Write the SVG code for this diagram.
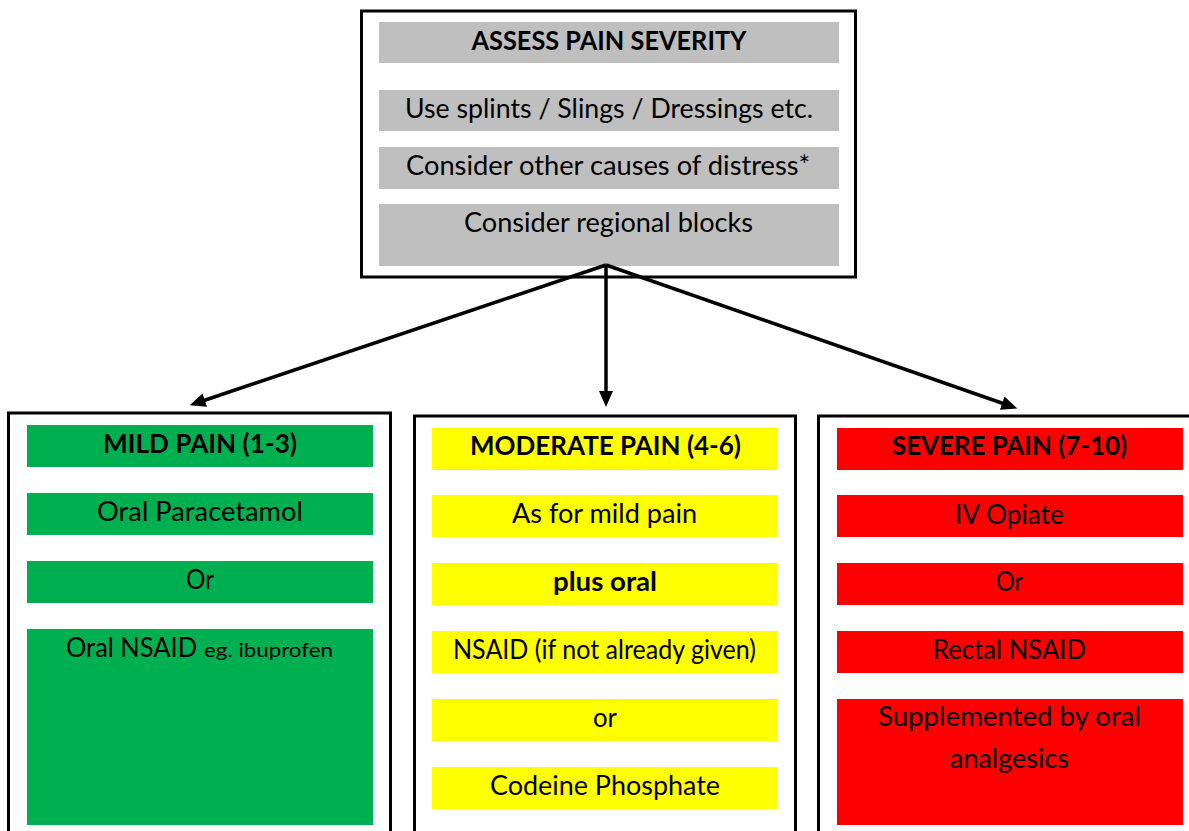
<svg xmlns="http://www.w3.org/2000/svg" width="1189" height="831" viewBox="0 0 1189 831">
<style>
.frame{fill:#fff;stroke:#000;stroke-width:3}
.grey{fill:#bfbfbf}
.green{fill:#00b050}
.yellow{fill:#ffff00}
.red{fill:#ff0000}
text{font-family:Lato,"Open Sans","Liberation Sans",sans-serif;font-size:26px;fill:#000;text-anchor:middle}
.b{font-weight:bold}
.conn{stroke:#000;stroke-width:3.5;fill:none}
</style>
<defs>
<marker id="ah" markerUnits="userSpaceOnUse" markerWidth="17" markerHeight="15" refX="4" refY="7" orient="auto">
<path d="M0,0 L16,7 L0,14 z" fill="#000"/>
</marker>
</defs>
<rect width="1189" height="831" fill="#fff"/>
<g id="assess">
<rect class="frame" x="361.5" y="11" width="494" height="266"/>
<rect class="grey" x="379" y="22" width="460" height="41"/>
<rect class="grey" x="379" y="90" width="460" height="41"/>
<rect class="grey" x="379" y="147" width="460" height="42"/>
<rect class="grey" x="379" y="204" width="460" height="62"/>
<text class="b" x="609" y="50" textLength="275" lengthAdjust="spacingAndGlyphs">ASSESS PAIN SEVERITY</text>
<text x="609" y="118" textLength="408" lengthAdjust="spacingAndGlyphs">Use splints / Slings / Dressings etc.</text>
<text x="608" y="175" textLength="404" lengthAdjust="spacingAndGlyphs">Consider other causes of distress*</text>
<text x="608.5" y="232" textLength="289" lengthAdjust="spacingAndGlyphs">Consider regional blocks</text>
</g>
<g id="connectors">
<line class="conn" x1="606" y1="265" x2="201" y2="401.5" marker-end="url(#ah)"/>
<line class="conn" x1="606" y1="265" x2="606" y2="395" marker-end="url(#ah)"/>
<line class="conn" x1="606" y1="265" x2="1006" y2="404.5" marker-end="url(#ah)"/>
</g>
<g id="mild">
<rect class="frame" x="8.5" y="413" width="382" height="430"/>
<rect class="green" x="27" y="425" width="346" height="42"/>
<rect class="green" x="27" y="493" width="346" height="42"/>
<rect class="green" x="27" y="561" width="346" height="42"/>
<rect class="green" x="27" y="629" width="346" height="196"/>
<text class="b" x="200" y="453" textLength="194" lengthAdjust="spacingAndGlyphs">MILD PAIN (1-3)</text>
<text x="200" y="521" textLength="206" lengthAdjust="spacingAndGlyphs">Oral Paracetamol</text>
<text x="200" y="589" textLength="28" lengthAdjust="spacingAndGlyphs">Or</text>
<text y="657" style="text-anchor:start"><tspan x="66" textLength="131" lengthAdjust="spacingAndGlyphs">Oral NSAID</tspan><tspan x="204" font-size="20" textLength="129" lengthAdjust="spacingAndGlyphs">eg. ibuprofen</tspan></text>
</g>
<g id="moderate">
<rect class="frame" x="414.5" y="416" width="381" height="430"/>
<rect class="yellow" x="432" y="428" width="346" height="42"/>
<rect class="yellow" x="432" y="495" width="346" height="42"/>
<rect class="yellow" x="432" y="563" width="346" height="42"/>
<rect class="yellow" x="432" y="631" width="346" height="42"/>
<rect class="yellow" x="432" y="699" width="346" height="42"/>
<rect class="yellow" x="432" y="767" width="346" height="42"/>
<text class="b" x="605.5" y="455" textLength="271" lengthAdjust="spacingAndGlyphs">MODERATE PAIN (4-6)</text>
<text x="604.5" y="523" textLength="185" lengthAdjust="spacingAndGlyphs">As for mild pain</text>
<text class="b" x="605" y="591" textLength="104" lengthAdjust="spacingAndGlyphs">plus oral</text>
<text x="604.5" y="659" textLength="303" lengthAdjust="spacingAndGlyphs">NSAID (if not already given)</text>
<text x="605" y="727" textLength="24" lengthAdjust="spacingAndGlyphs">or</text>
<text x="605" y="795" textLength="230" lengthAdjust="spacingAndGlyphs">Codeine Phosphate</text>
</g>
<g id="severe">
<rect class="frame" x="818.5" y="416" width="400" height="430"/>
<rect class="red" x="837" y="428" width="346" height="42"/>
<rect class="red" x="837" y="495" width="346" height="42"/>
<rect class="red" x="837" y="563" width="346" height="42"/>
<rect class="red" x="837" y="631" width="346" height="42"/>
<rect class="red" x="837" y="699" width="346" height="126"/>
<text class="b" x="1009.5" y="455" textLength="235" lengthAdjust="spacingAndGlyphs">SEVERE PAIN (7-10)</text>
<text x="1009.5" y="524" textLength="109" lengthAdjust="spacingAndGlyphs">IV Opiate</text>
<text x="1009.5" y="591" textLength="27" lengthAdjust="spacingAndGlyphs">Or</text>
<text x="1009.5" y="659" textLength="153" lengthAdjust="spacingAndGlyphs">Rectal NSAID</text>
<text x="1009.5" y="726" textLength="263" lengthAdjust="spacingAndGlyphs">Supplemented by oral</text>
<text x="1009.5" y="768" textLength="119" lengthAdjust="spacingAndGlyphs">analgesics</text>
</g>
</svg>
